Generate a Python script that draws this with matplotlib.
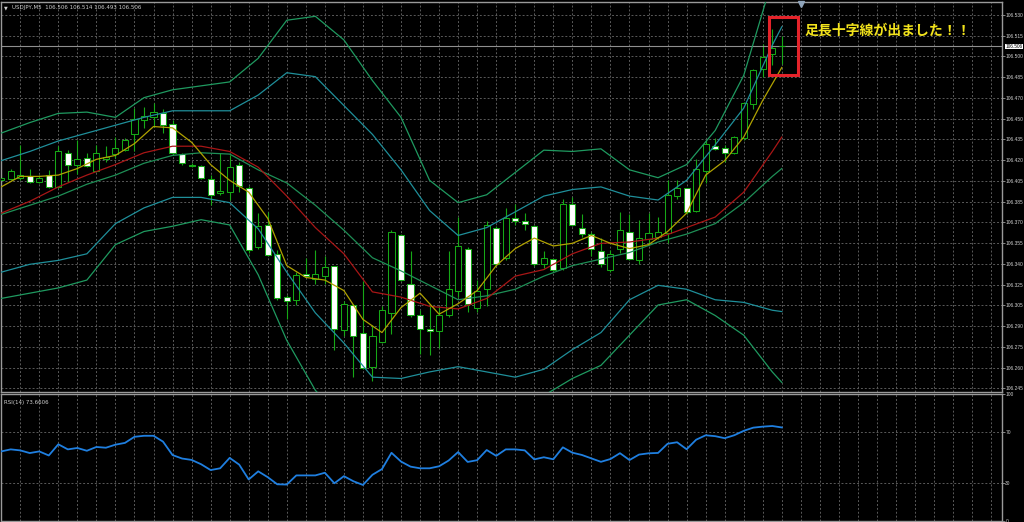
import matplotlib
matplotlib.use("Agg")
import matplotlib.pyplot as plt
from matplotlib.patches import Rectangle
import numpy as np

plt.rcParams['font.family'] = ['DejaVu Sans']

# ---------------- data ----------------
symbol_header = "USDJPY,M5  106.506 106.514 106.493 106.506"
rsi_header = "RSI(14) 73.6606"
annotation = "足長十字線が出ました！！"

opens = [106.404, 106.405, 106.406, 106.407, 106.403, 106.408, 106.399, 106.425, 106.416, 106.421,
         106.411, 106.420, 106.424, 106.427, 106.439, 106.450, 106.452, 106.455, 106.447, 106.424,
         106.416, 106.415, 106.405, 106.394, 106.395, 106.416, 106.398, 106.353, 106.370, 106.348,
         106.315, 106.313, 106.333, 106.329, 106.331, 106.339, 106.290, 106.309, 106.288, 106.262,
         106.281, 106.303, 106.362, 106.325, 106.301, 106.291, 106.289, 106.301, 106.320, 106.352,
         106.307, 106.321, 106.368, 106.345, 106.375, 106.373, 106.369, 106.340, 106.344, 106.337,
         106.386, 106.368, 106.363, 106.350, 106.336, 106.352, 106.365, 106.343, 106.359, 106.361,
         106.364, 106.392, 106.398, 106.381, 106.411, 106.430, 106.429, 106.425, 106.436, 106.462,
         106.489, 106.500, 106.506]
highs = [106.408, 106.413, 106.431, 106.413, 106.408, 106.412, 106.430, 106.427, 106.435, 106.425,
         106.431, 106.430, 106.437, 106.436, 106.459, 106.460, 106.463, 106.458, 106.450, 106.425,
         106.417, 106.416, 106.408, 106.425, 106.423, 106.418, 106.400, 106.379, 106.380, 106.351,
         106.317, 106.334, 106.345, 106.351, 106.346, 106.339, 106.312, 106.310, 106.327, 106.294,
         106.308, 106.366, 106.363, 106.350, 106.305, 106.309, 106.308, 106.350, 106.376, 106.353,
         106.328, 106.373, 106.369, 106.383, 106.386, 106.379, 106.370, 106.350, 106.344, 106.390,
         106.391, 106.378, 106.365, 106.360, 106.351, 106.380, 106.378, 106.374, 106.379, 106.376,
         106.404, 106.404, 106.398, 106.420, 106.435, 106.436, 106.431, 106.438, 106.464, 106.489,
         106.508, 106.519, 106.514]
lows = [106.403, 106.404, 106.404, 106.402, 106.402, 106.398, 106.398, 106.403, 106.409, 106.414,
        106.410, 106.418, 106.421, 106.426, 106.426, 106.444, 106.445, 106.440, 106.423, 106.416,
        106.414, 106.405, 106.385, 106.393, 106.389, 106.395, 106.349, 106.352, 106.346, 106.313,
        106.298, 106.309, 106.330, 106.325, 106.325, 106.275, 106.285, 106.254, 106.260, 106.251,
        106.280, 106.287, 106.327, 106.300, 106.272, 106.271, 106.276, 106.300, 106.315, 106.304,
        106.304, 106.308, 106.339, 106.343, 106.370, 106.366, 106.339, 106.337, 106.335, 106.336,
        106.369, 106.361, 106.346, 106.338, 106.334, 106.349, 106.343, 106.340, 106.355, 106.359,
        106.356, 106.390, 106.378, 106.380, 106.402, 106.427, 106.418, 106.424, 106.435, 106.458,
        106.483, 106.492, 106.493]
closes = [106.406, 106.411, 106.408, 106.403, 106.406, 106.399, 106.426, 106.416, 106.420, 106.415,
          106.425, 106.422, 106.429, 106.435, 106.451, 106.453, 106.456, 106.446, 106.425, 106.417,
          106.415, 106.406, 106.393, 106.396, 106.414, 106.400, 106.351, 106.369, 106.347, 106.314,
          106.312, 106.332, 106.331, 106.333, 106.338, 106.291, 106.310, 106.285, 106.261, 106.285,
          106.305, 106.365, 106.328, 106.301, 106.291, 106.289, 106.301, 106.321, 106.354, 106.310,
          106.320, 106.370, 106.340, 106.375, 106.373, 106.371, 106.340, 106.345, 106.336, 106.386,
          106.370, 106.363, 106.352, 106.340, 106.348, 106.366, 106.344, 106.360, 106.364, 106.365,
          106.393, 106.398, 106.380, 106.413, 106.432, 106.428, 106.425, 106.437, 106.463, 106.488,
          106.498, 106.505, 106.506]

# fast moving average (yellow), read every 2 bars
ma_fast_idx = list(range(0, 83, 2))
ma_fast = [106.399, 106.407, 106.407, 106.408, 106.413, 106.420, 106.423, 106.432, 106.445, 106.444,
           106.433, 106.416, 106.404, 106.395, 106.375, 106.339, 106.330, 106.328, 106.320, 106.298,
           106.288, 106.307, 106.318, 106.302, 106.310, 106.320, 106.339, 106.352, 106.360, 106.354,
           106.356, 106.362, 106.356, 106.352, 106.355, 106.365, 106.379, 106.408, 106.419, 106.437,
           106.465, 106.490]

# other lines read every 3 bars (+ last bar)
band_idx = list(range(0, 82, 3)) + [82]
ma_red = [106.379, 106.388, 106.399, 106.408, 106.416, 106.425, 106.430, 106.430, 106.426, 106.414,
          106.392, 106.368, 106.348, 106.319, 106.315, 106.308, 106.306, 106.314, 106.331, 106.336,
          106.348, 106.356, 106.357, 106.360, 106.368, 106.376, 106.395, 106.426, 106.437]
bb_mid = [106.378, 106.385, 106.392, 106.401, 106.408, 106.417, 106.423, 106.425, 106.424, 106.412,
          106.402, 106.385, 106.366, 106.345, 106.335, 106.324, 106.313, 106.316, 106.321, 106.331,
          106.339, 106.344, 106.349, 106.357, 106.363, 106.371, 106.387, 106.407, 106.413]
bb_upper_inner = [106.419, 106.426, 106.434, 106.440, 106.446, 106.452, 106.457, 106.457, 106.457, 106.469,
                  106.486, 106.483, 106.461, 106.439, 106.412, 106.381, 106.362, 106.368, 106.380, 106.392,
                  106.397, 106.399, 106.392, 106.389, 106.404, 106.431, 106.459, 106.507, 106.521]
bb_upper_outer = [106.440, 106.448, 106.455, 106.456, 106.452, 106.467, 106.473, 106.476, 106.479, 106.497,
                  106.526, 106.529, 106.511, 106.480, 106.452, 106.404, 106.387, 106.393, 106.410, 106.427,
                  106.426, 106.428, 106.412, 106.406, 106.416, 106.442, 106.484, 106.557, 106.576]
bb_lower_inner = [106.334, 106.340, 106.343, 106.348, 106.371, 106.383, 106.391, 106.391, 106.387, 106.367,
                  106.334, 106.303, 106.280, 106.254, 106.253, 106.258, 106.262, 106.258, 106.254, 106.260,
                  106.275, 106.288, 106.313, 106.324, 106.321, 106.313, 106.311, 106.305, 106.304]
bb_lower_outer = [106.314, 106.318, 106.322, 106.328, 106.355, 106.365, 106.369, 106.374, 106.370, 106.332,
                  106.282, 106.244, 106.221, 106.206, 106.214, 106.229, 106.229, 106.233, 106.237, 106.240,
                  106.253, 106.263, 106.286, 106.309, 106.313, 106.301, 106.286, 106.258, 106.250]

rsi = [54.8, 56.4, 55.6, 53.5, 54.8, 51.6, 60.4, 56.4, 57.5, 55.3, 58.3, 57.7, 60.1, 61.5, 66.3,
       67.1, 67.1, 62.5, 51.9, 49.2, 48.1, 44.7, 40.1, 41.5, 49.7, 44.4, 32.7, 39.1, 34.5, 28.9,
       28.7, 35.9, 35.9, 35.9, 38.0, 29.7, 35.3, 31.3, 28.4, 36.4, 40.9, 53.7, 46.8, 42.8, 41.5,
       41.5, 43.1, 47.6, 54.3, 46.5, 47.9, 55.9, 51.3, 56.4, 56.4, 55.6, 48.5, 50.2, 48.6, 58.0,
       53.8, 52.0, 49.3, 46.6, 48.8, 53.4, 48.0, 52.3, 53.3, 53.6, 60.8, 62.0, 56.5, 64.0, 67.5,
       66.8, 65.2, 67.5, 71.0, 73.5, 74.3, 74.8, 73.66]

price_tick_labels = ["106.530", "106.515", "106.500", "106.485", "106.470", "106.450", "106.435",
                     "106.420", "106.405", "106.385", "106.370", "106.355", "106.340", "106.325",
                     "106.305", "106.290", "106.275", "106.260", "106.245"]
rsi_ticks = [100, 70, 30, 0]
current_price = 106.506
doji_box = (80.65, 106.4843, 83.73, 106.5282)   # bar range / price range of the highlight

# ---------------- figure ----------------
W, H = 1024, 522
fig = plt.figure(figsize=(W / 100, H / 100), dpi=100, facecolor='black')


def rect(x0, y0, x1, y1):
    return [x0 / W, 1 - y1 / H, (x1 - x0) / W, (y1 - y0) / H]


ax = fig.add_axes(rect(1, 2, 1002, 392))
ax2 = fig.add_axes(rect(1, 394, 1002, 521))

GRID = '#5a5a5a'
SPINE = '#9a9a9a'
TXT = '#cfcfcf'
CANDLE = '#16a816'
AXFONT = ['Liberation Sans', 'DejaVu Sans']

xlim = (-0.02, 105.13)
ymin, ymax = 106.2427, 106.5399

for a in (ax, ax2):
    a.set_facecolor('black')
    a.set_xlim(*xlim)
    for s in a.spines.values():
        s.set_color(SPINE)
        s.set_linewidth(1.0)
    a.set_xticks([])
    for gx in range(2, 106, 2):
        a.axvline(gx, color=GRID, lw=0.7, ls=(0, (2, 2)), zorder=1)

ax.set_ylim(ymin, ymax)
tick_pos = np.linspace(106.530, 106.2455, len(price_tick_labels))
for ty in tick_pos:
    ax.axhline(ty, color=GRID, lw=0.7, ls=(0, (2, 2)), zorder=1)
ax.yaxis.tick_right()
ax.set_yticks(tick_pos)
ax.set_yticklabels(price_tick_labels, family=AXFONT)
ax.tick_params(axis='y', colors=SPINE, labelcolor=TXT, labelsize=3.5, length=1.8, width=0.6, pad=0.6)

# candles
n = len(opens)
bar_x = np.arange(n)
body_w = 0.64
ax.vlines(bar_x, lows, highs, color=CANDLE, lw=0.8, zorder=2)
for i in range(n):
    o, c = opens[i], closes[i]
    lo, hi = min(o, c), max(o, c)
    face = 'white' if c < o else 'black'
    ax.add_patch(Rectangle((bar_x[i] - body_w / 2, lo), body_w, max(hi - lo, 1e-6),
                           facecolor=face, edgecolor=CANDLE, lw=0.75, zorder=3))

# indicator lines
ax.plot(band_idx, bb_upper_outer, color='#1f9a60', lw=0.9, zorder=4)
ax.plot(band_idx, bb_lower_outer, color='#1f9a60', lw=0.9, zorder=4)
ax.plot(band_idx, bb_upper_inner, color='#1f8f9a', lw=0.9, zorder=4)
ax.plot(band_idx, bb_lower_inner, color='#1f8f9a', lw=0.9, zorder=4)
ax.plot(band_idx, bb_mid, color='#1e8f56', lw=0.9, zorder=4)
ax.plot(band_idx, ma_red, color='#a81616', lw=0.9, zorder=4)
ax.plot(ma_fast_idx, ma_fast, color='#b0a200', lw=0.9, zorder=4)

# current price line + label
ax.axhline(current_price, color='#8f8f8f', lw=0.8, zorder=2)
ax.text(1.0035, current_price, f"{current_price:.3f}", transform=ax.get_yaxis_transform(),
        fontsize=3.4, color='black', va='center', ha='left', clip_on=False, family=AXFONT,
        bbox=dict(boxstyle='square,pad=0.1', facecolor='white', edgecolor='none'))

# highlight box and annotation
bx0, by0, bx1, by1 = doji_box
ax.add_patch(Rectangle((bx0, by0), bx1 - bx0, by1 - by0, fill=False,
                       edgecolor='#e4232a', lw=2.2, zorder=6))
ax.text(bx1 + 0.7, 106.518, annotation, color='#f2e31c', fontsize=10, fontweight='bold',
        family=['Noto Sans CJK JP', 'DejaVu Sans'], va='center', ha='left', zorder=7)

# header
ax.text(0.003, 0.985, "▼", transform=ax.transAxes, fontsize=3.5, color=TXT, va='center', ha='left')
ax.text(0.011, 0.985, symbol_header, transform=ax.transAxes, fontsize=4, color=TXT,
        va='center', ha='left')
ax.plot([84.0], [106.5385], marker='v', ms=4, color='#8fa4ba', clip_on=False, zorder=8)

# RSI panel
ax2.set_ylim(0, 100)
for ry in (70, 30):
    ax2.axhline(ry, color=GRID, lw=0.7, ls=(0, (2, 2)), zorder=1)
ax2.plot(bar_x, rsi, color='#1f7fe0', lw=1.3, zorder=3)
ax2.yaxis.tick_right()
ax2.set_yticks(rsi_ticks)
ax2.set_yticklabels([str(t) for t in rsi_ticks], family=AXFONT)
ax2.tick_params(axis='y', colors=SPINE, labelcolor=TXT, labelsize=3.5, length=1.8, width=0.6, pad=0.6)
ax2.text(0.003, 0.93, rsi_header, transform=ax2.transAxes, fontsize=4, color=TXT,
         va='center', ha='left')

fig.savefig("out.png", dpi=100, facecolor='black')
